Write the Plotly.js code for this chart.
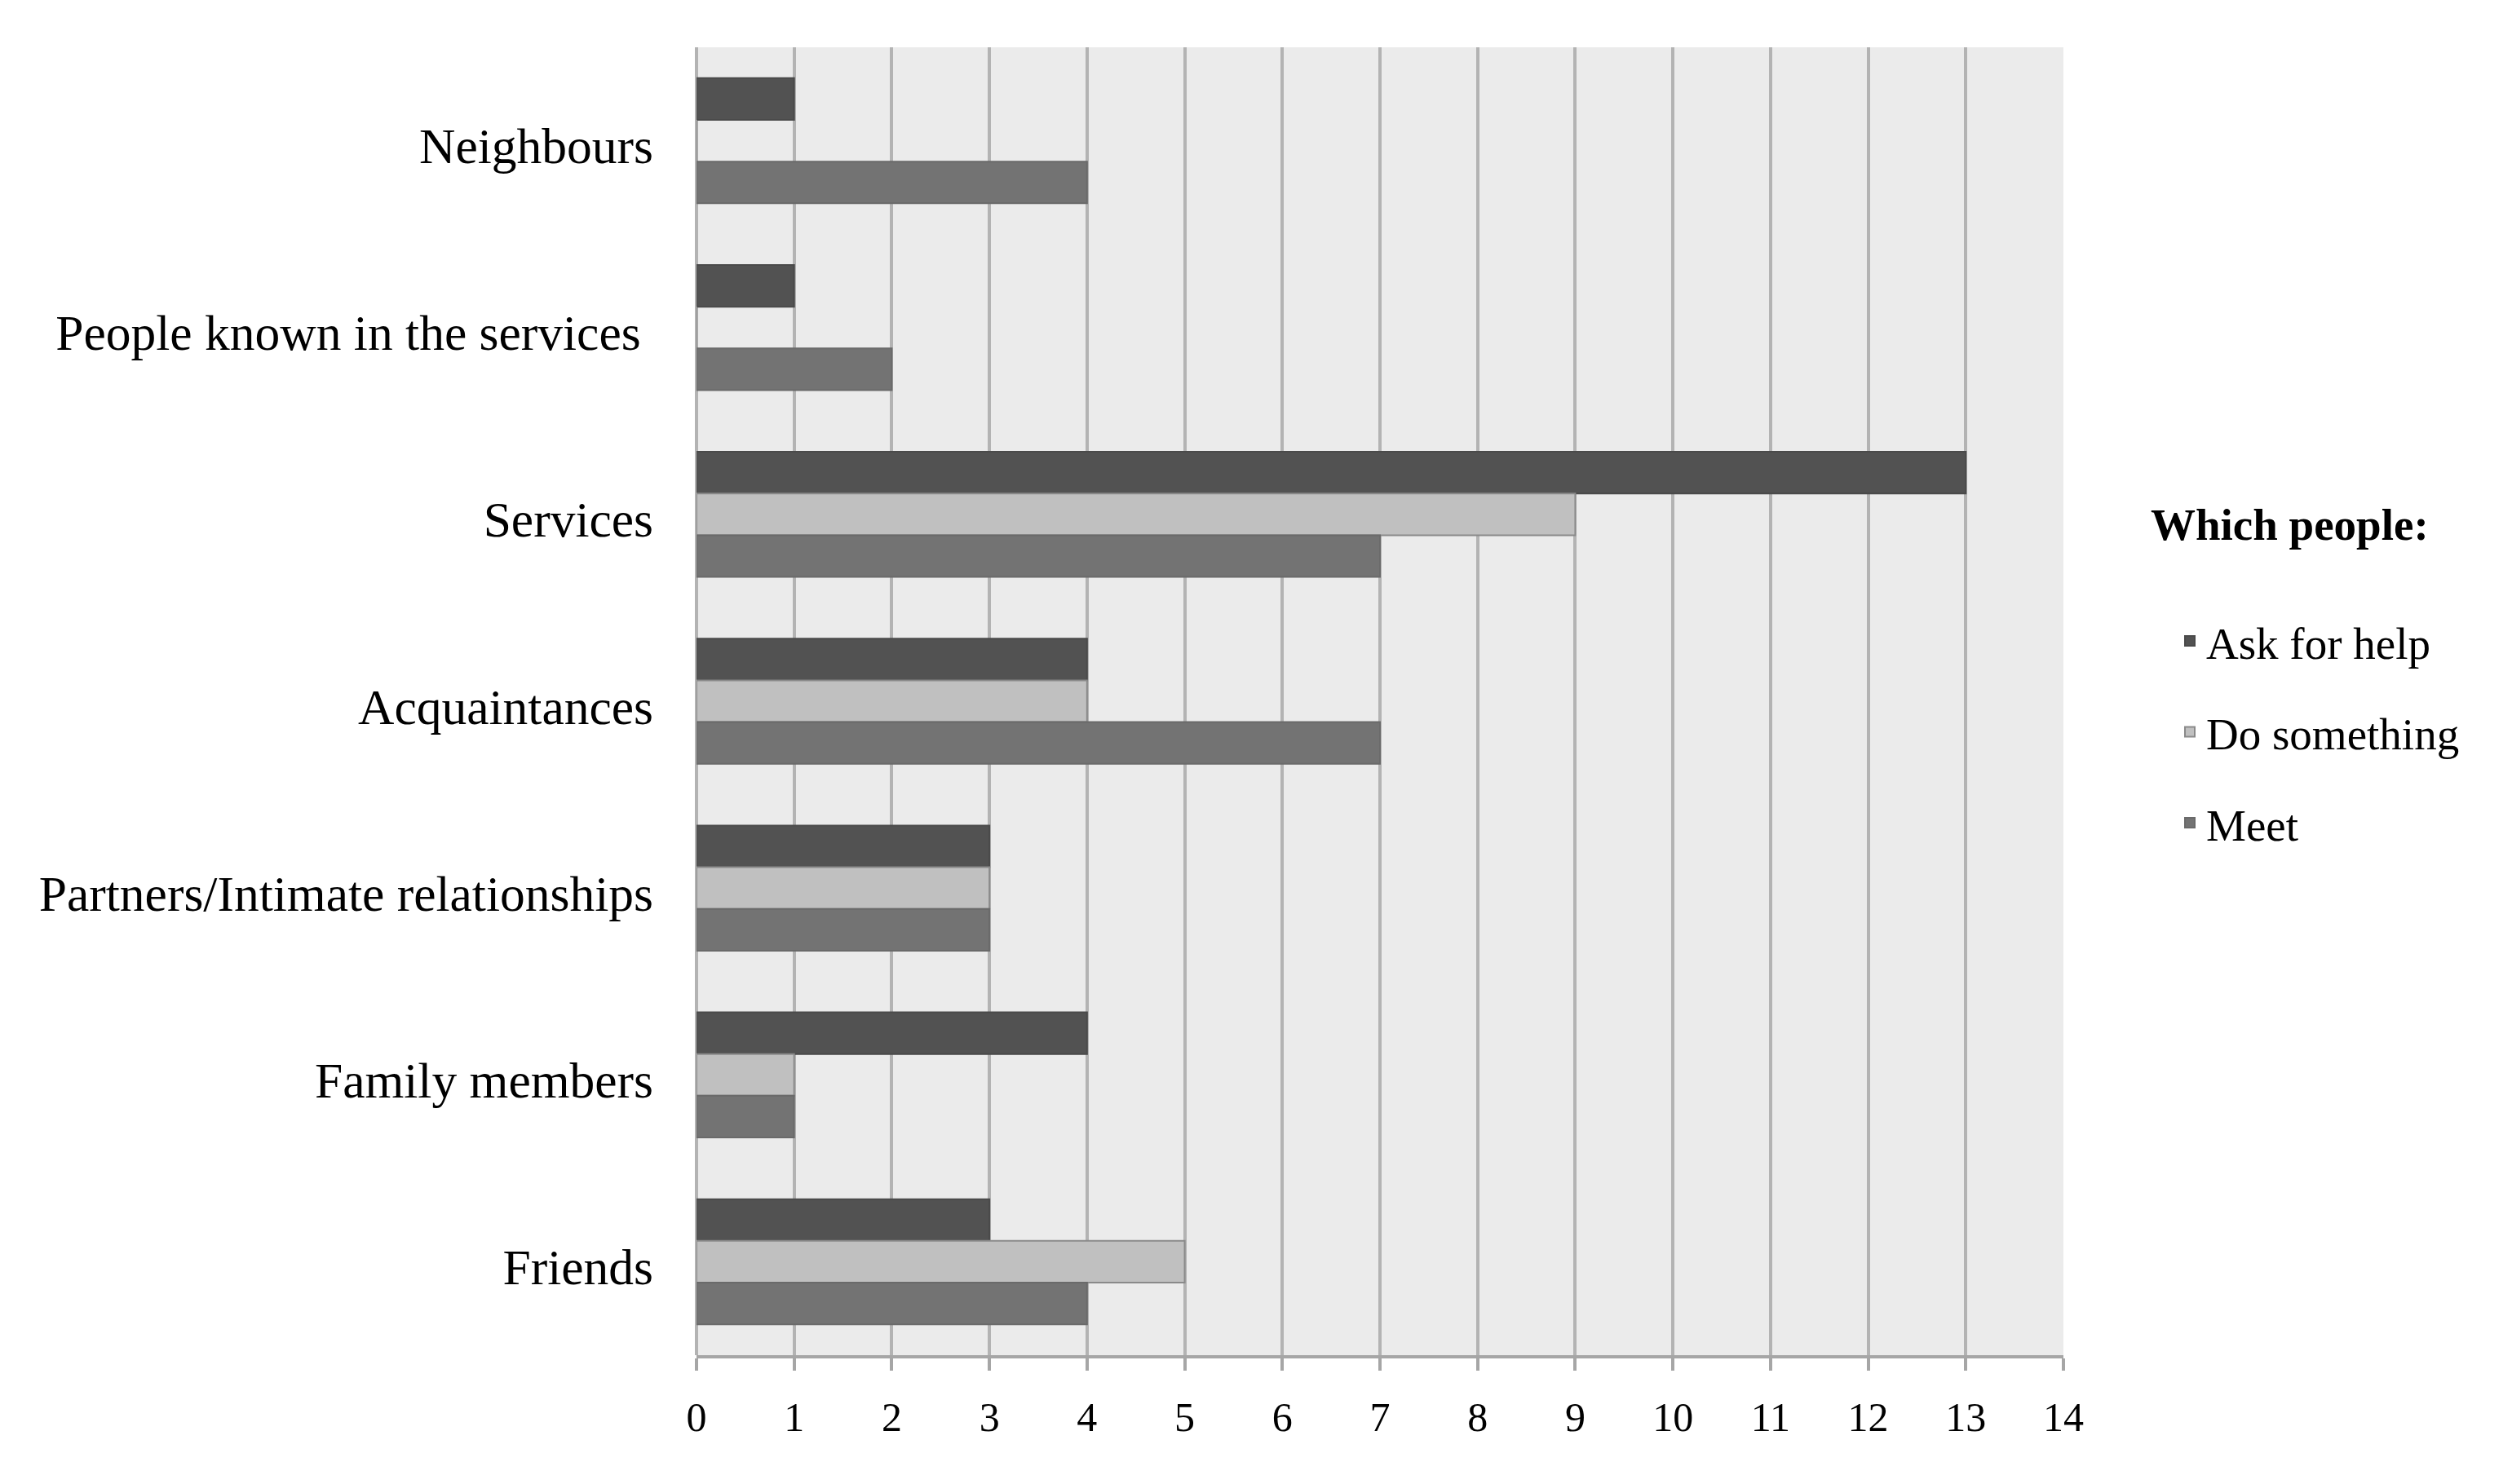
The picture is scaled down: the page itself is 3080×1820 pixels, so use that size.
<!DOCTYPE html>
<html>
<head>
<meta charset="utf-8">
<script src="https://cdn.plot.ly/plotly-3.0.1.min.js"></script>
<style>html,body{margin:0;padding:0;background:#fff;}#chart{width:3080px;height:1820px;}</style>
</head>
<body>
<div id="chart"></div>
<script>
const categories = ['Neighbours', 'People known in the services', 'Services', 'Acquaintances', 'Partners/Intimate relationships', 'Family members', 'Friends'];
const categoryLabels = ['Neighbours', 'People known in the services\u00a0', 'Services', 'Acquaintances', 'Partners/Intimate relationships', 'Family members', 'Friends'];
const seriesNames = ['Ask for help', 'Do something', 'Meet'];
const askForHelp = [1, 1, 13, 4, 3, 4, 3];
const doSomething = [0, 0, 9, 4, 3, 1, 5];
const meet = [4, 2, 7, 7, 3, 1, 4];
const xTicks = [0,1,2,3,4,5,6,7,8,9,10,11,12,13,14];

const colors = ['#525252', '#c0c0c0', '#737373'];
const lineColors = ['#4a4a4a', '#8a8a8a', '#6a6a6a'];
const values = [askForHelp, doSomething, meet];

const traces = values.map((v, i) => ({
  type: 'bar',
  orientation: 'h',
  name: seriesNames[i],
  legendgroup: 'g' + i,
  y: categories,
  x: v,
  marker: {color: colors[i], line: {color: lineColors[i], width: 2}},
  hoverinfo: 'x+name'
}));

const serif = 'Liberation Serif, Times New Roman, serif';

const layout = {
  width: 3080,
  height: 1820,
  paper_bgcolor: '#ffffff',
  plot_bgcolor: '#ebebeb',
  barmode: 'group',
  bargap: 0.33,
  bargroupgap: 0,
  margin: {l: 854, r: 550, t: 58, b: 158, pad: 0},
  font: {family: serif, color: '#000000', size: 50},
  xaxis: {
    range: [0, 14],
    tickvals: xTicks,
    ticktext: xTicks.map(String),
    showgrid: true,
    gridcolor: '#b3b3b3',
    gridwidth: 4,
    zeroline: true,
    zerolinecolor: '#b3b3b3',
    zerolinewidth: 4,
    showline: true,
    linecolor: '#a6a6a6',
    linewidth: 4,
    ticks: 'outside',
    ticklen: 15,
    tickwidth: 4,
    tickcolor: '#a6a6a6',
    ticklabelstandoff: 14,
    tickfont: {family: serif, size: 50, color: '#000000'},
    fixedrange: true
  },
  yaxis: {
    type: 'category',
    categoryorder: 'array',
    categoryarray: categories,
    tickvals: categories,
    ticktext: categoryLabels,
    autorange: 'reversed',
    showgrid: false,
    zeroline: false,
    showline: false,
    ticks: '',
    ticklabelstandoff: 52,
    ticklabelshift: -6,
    tickfont: {family: serif, size: 61.5, color: '#000000'},
    fixedrange: true
  },
  showlegend: true,
  legend: {
    xref: 'container',
    yref: 'container',
    x: 2635 / 3080,
    xanchor: 'left',
    y: 1 - 580 / 1820,
    yanchor: 'top',
    bgcolor: 'rgba(0,0,0,0)',
    borderwidth: 0,
    font: {family: serif, size: 55, color: '#000000'},
    tracegroupgap: 37,
    indentation: 30,
    title: {text: '<span style="font-size:55px"><b>Which people:</b></span><br> ', font: {family: serif, size: 63, color: '#000000'}, side: 'top'}
  }
};

Plotly.newPlot('chart', traces, layout, {displayModeBar: false, staticPlot: true});
</script>
</body>
</html>
